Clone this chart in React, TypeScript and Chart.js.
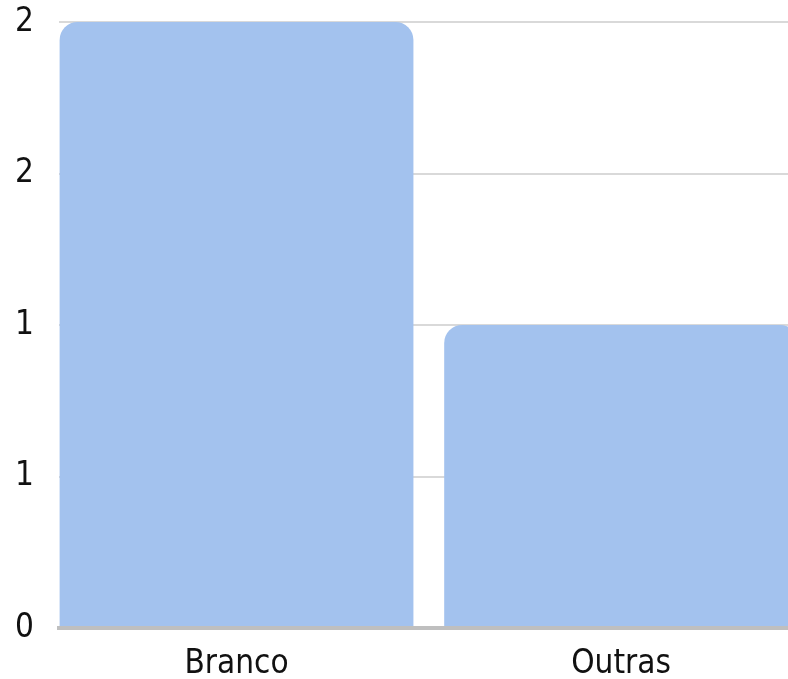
import React, { useEffect, useRef } from 'react';
import { Chart, registerables } from 'chart.js';

Chart.register(...registerables);

const categories = ['Branco', 'Outras'];
const values = [2, 1];
const yTickValues = [0, 0.5, 1, 1.5, 2];
const yTickLabels = ['0', '1', '1', '2', '2'];

export default function App() {
  const ref = useRef<HTMLCanvasElement>(null);

  useEffect(() => {
    const font = { family: '"DejaVu Sans Condensed", "DejaVu Sans", sans-serif', size: 33 };
    const chart = new Chart(ref.current as HTMLCanvasElement, {
      type: 'bar',
      data: {
        datasets: [
          {
            data: categories.map((_, i) => ({ x: i, y: values[i] })),
            backgroundColor: '#A3C2EE',
            borderRadius: { topLeft: 18, topRight: 18, bottomLeft: 0, bottomRight: 0 },
            borderSkipped: 'bottom',
            categoryPercentage: 1,
            barPercentage: 0.92,
          } as any,
        ],
      },
      options: {
        animation: false,
        responsive: false,
        maintainAspectRatio: false,
        layout: { padding: { top: 22, right: 0, bottom: 0, left: 0 } },
        plugins: { legend: { display: false }, tooltip: { enabled: false } },
        scales: {
          x: {
            type: 'linear',
            offset: false,
            min: -0.4616,
            max: 1.434,
            grid: { display: false, drawTicks: false },
            border: { color: '#bfbfbf', width: 4, z: 1 },
            afterBuildTicks: (s: any) => {
              s.ticks = categories.map((_, i) => ({ value: i }));
            },
            afterFit: (s: any) => {
              s.height = 51;
            },
            ticks: {
              callback: (v: any) => categories[v as number],
              font,
              color: '#111',
              padding: 17,
              maxRotation: 0,
              autoSkip: false,
            },
          },
          y: {
            min: 0,
            max: 2,
            afterFit: (s: any) => {
              s.width = 59;
            },
            afterBuildTicks: (s: any) => {
              s.ticks = yTickValues.map((v) => ({ value: v }));
            },
            grid: {
              drawTicks: true,
              tickLength: 25,
              tickColor: 'rgba(0,0,0,0)',
              color: (ctx: any) => (ctx.tick && ctx.tick.value === 0 ? 'rgba(0,0,0,0)' : '#d9d9d9'),
              lineWidth: 2,
            },
            border: { display: false },
            ticks: {
              callback: (_v: any, i: number) => yTickLabels[i],
              font,
              color: '#111',
              padding: 0,
            },
          },
        },
      } as any,
    });
    return () => chart.destroy();
  }, []);

  return (
    <div style={{ position: 'absolute', left: 0, top: 0, width: 788, height: 679, overflow: 'hidden', background: '#fff' }}>
      <canvas ref={ref} width={788} height={679} style={{ display: 'block' }} />
    </div>
  );
}
